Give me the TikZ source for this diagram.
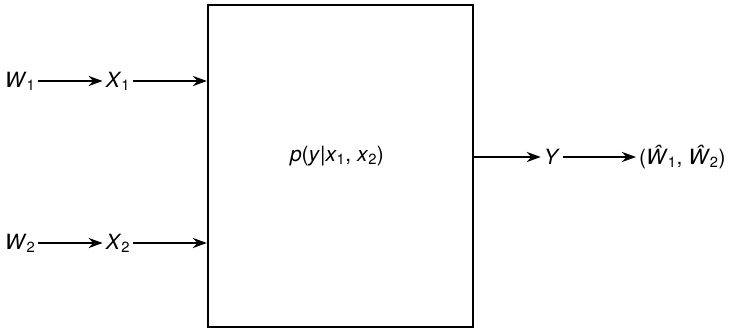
\documentclass[tikz,border=0pt]{standalone}
\usepackage{fontspec}
\setmainfont{TeX Gyre Heros}
\usetikzlibrary{arrows.meta,positioning}

\newcommand{\sym}[2]{\textit{#1}\textsubscript{#2}}
\newcommand{\est}[1]{\textit{Ŵ}\textsubscript{#1}}

\begin{document}
\begin{tikzpicture}[x=1pt,y=-1pt,font=\fontsize{21}{25}\selectfont,
    sig/.style={inner sep=3pt},
    chanbox/.style={draw,line width=2.2pt,minimum width=265pt,minimum height=322pt,inner sep=0pt},
    every edge/.style={draw,line width=2.8pt,-{Stealth[length=14pt,width=10pt]}}]
    \useasboundingbox (0,0) rectangle (732,329);
    \node[chanbox] (chan) at (340.5,166) {};
    \node (law) at (337,156) {\textit{p}(\textit{y}|\textit{x}\textsubscript{1}, \textit{x}\textsubscript{2})};
    \node[sig] (w_1) at (20,81) {\sym{W}{1}};
    \node[sig] (x_1) at (118,81) {\sym{X}{1}};
    \node[sig] (w_2) at (20,243) {\sym{W}{2}};
    \node[sig] (x_2) at (118,243) {\sym{X}{2}};
    \node[sig] (y) at (552,157) {\textit{Y}};
    \node[sig,anchor=west] (w_hat) at (636,157) {(\est{1}, \est{2})};
    \path
    (w_1) edge (x_1)
    (x_1) edge (chan.west |- x_1)
    (w_2) edge (x_2)
    (x_2) edge (chan.west |- x_2)
    (chan.east |- y) edge (y)
    (y) edge (w_hat);
\end{tikzpicture}
\end{document}
